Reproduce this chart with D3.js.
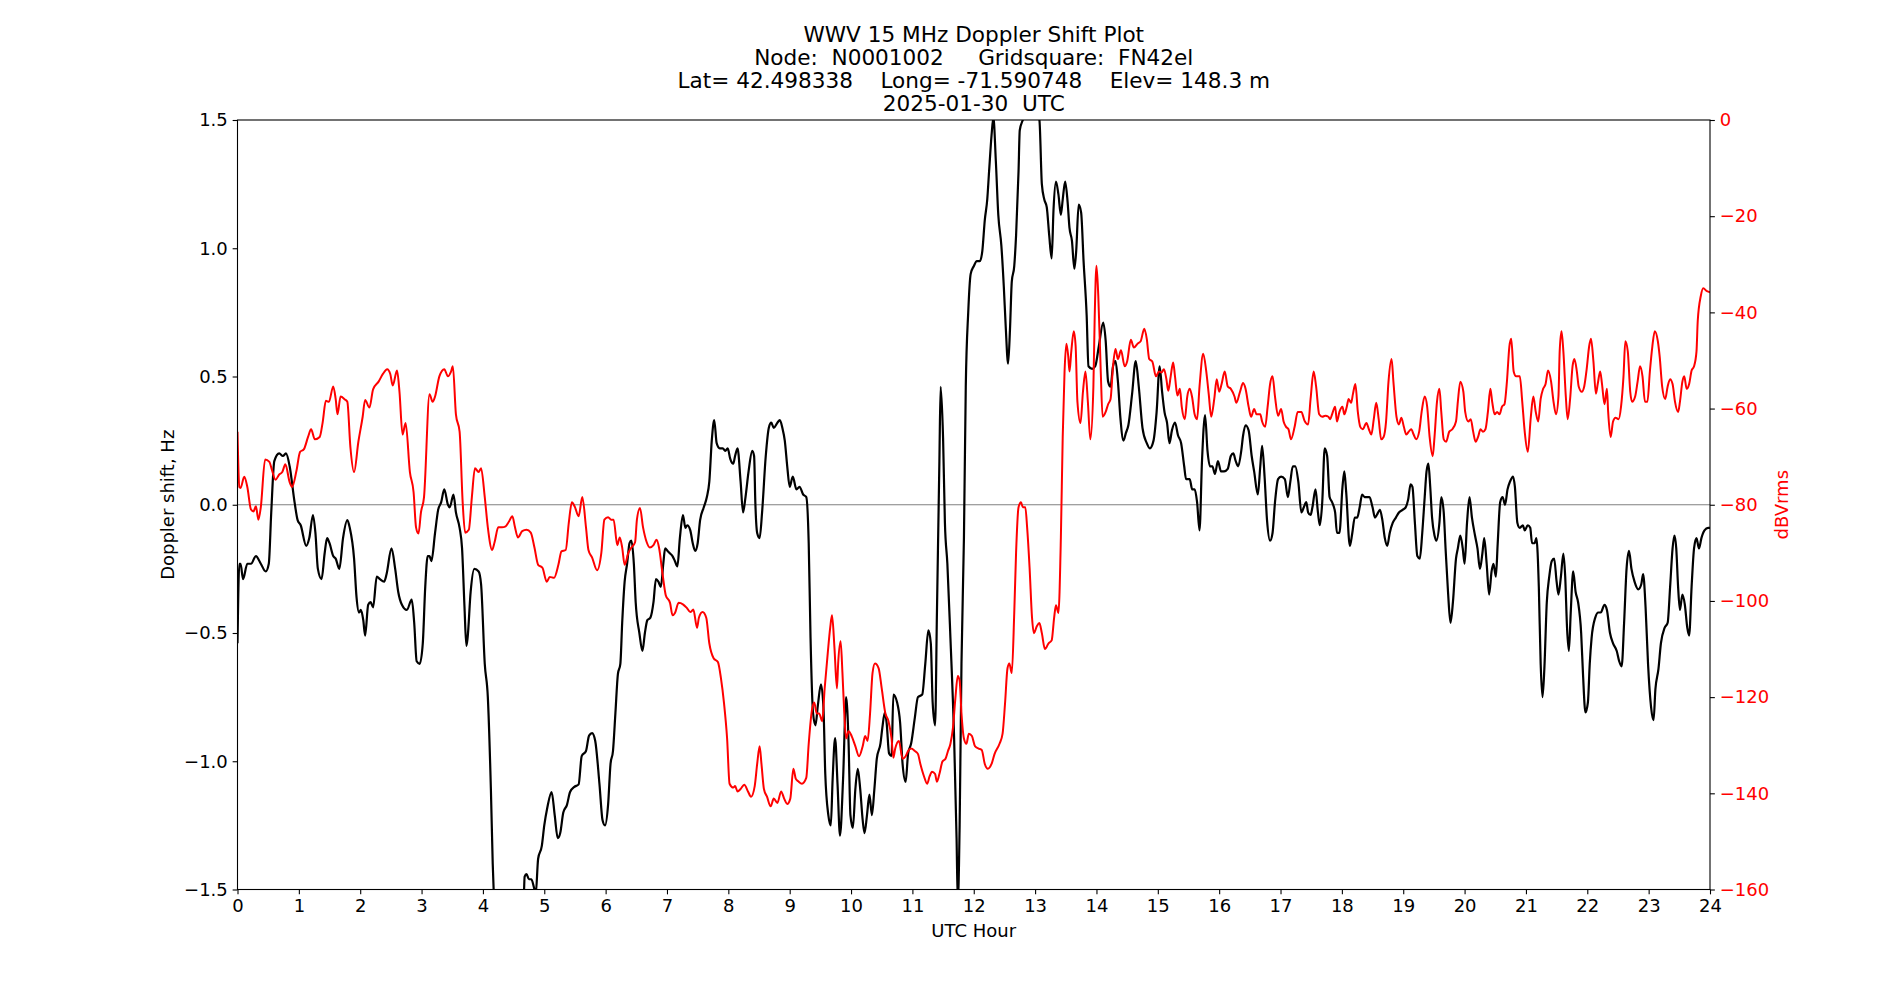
<!DOCTYPE html>
<html>
<head>
<meta charset="utf-8">
<script src="https://cdn.jsdelivr.net/npm/d3@7"></script>
<style>
  body { margin: 0; background: #fff; }
  svg { font-family: "DejaVu Sans", sans-serif; }
  text { white-space: pre; }
</style>
</head>
<body>
<svg id="chart" width="1900" height="1000"></svg>
<script>
// title lines, as in the source plot
const titleLines = [
  "WWV 15 MHz Doppler Shift Plot",
  "Node:  N0001002     Gridsquare:  FN42el",
  "Lat= 42.498338    Long= -71.590748    Elev= 148.3 m",
  "2025-01-30  UTC"
];

const hourTicks = d3.range(0, 25, 1);
const shiftTicks = [-1.5, -1.0, -0.5, 0.0, 0.5, 1.0, 1.5];
const levelTicks = [-160, -140, -120, -100, -80, -60, -40, -20, 0];

// Doppler shift (Hz) vs UTC hour
const dopplerTime = [
  0.00,0.03,0.05,0.09,0.16,0.22,0.30,0.38,0.46,0.51,0.55,0.60,0.68,0.74,0.79,0.85,0.93,0.98,
  1.03,1.12,1.17,1.23,1.27,1.31,1.37,1.42,1.46,1.50,1.56,1.60,1.66,1.72,1.79,1.83,1.90,1.94,1.98,
  2.01,2.05,2.08,2.13,2.17,2.21,2.27,2.32,2.39,2.43,2.51,2.57,2.62,2.68,2.76,2.84,2.88,2.92,2.97,
  3.02,3.06,3.10,3.13,3.16,3.22,3.27,3.32,3.37,3.43,3.46,3.52,3.56,3.62,3.66,3.70,3.73,3.75,3.80,3.86,3.93,3.97,
  4.03,4.08,4.13,4.16,4.19,4.30,4.55,4.66,4.68,4.71,4.75,4.79,4.83,4.86,4.90,4.96,
  5.00,5.05,5.12,5.17,5.22,5.26,5.31,5.37,5.42,5.49,5.56,5.61,5.68,5.73,5.78,5.83,5.90,5.95,5.99,
  6.04,6.08,6.12,6.16,6.20,6.24,6.27,6.31,6.35,6.39,6.42,6.46,6.49,6.55,6.60,6.64,6.68,6.73,6.78,6.82,6.86,6.90,6.94,6.97,
  7.01,7.05,7.09,7.13,7.17,7.21,7.26,7.30,7.33,7.38,7.42,7.46,7.50,7.54,7.60,7.65,7.69,7.73,7.77,7.81,7.86,7.91,7.95,7.99,
  8.03,8.08,8.11,8.15,8.20,8.24,8.28,8.33,8.39,8.42,8.44,8.47,8.51,8.55,8.61,8.66,8.70,8.74,8.80,8.84,8.88,8.92,8.96,
  9.00,9.05,9.11,9.16,9.22,9.27,9.31,9.34,9.38,9.42,9.46,9.51,9.55,9.58,9.63,9.67,9.70,9.74,9.78,9.82,9.87,9.92,9.96,9.99,
  10.03,10.07,10.11,10.15,10.19,10.22,10.26,10.30,10.34,10.38,10.42,10.48,10.51,10.55,10.58,10.62,10.66,10.69,10.75,10.80,10.84,10.89,10.93,10.98,
  11.04,11.09,11.16,11.21,11.26,11.30,11.33,11.37,11.40,11.44,11.46,11.50,11.53,11.57,11.62,11.68,11.72,11.74,11.77,11.80,11.84,11.87,11.91,11.95,
  12.00,12.05,12.10,12.14,12.18,12.22,12.25,12.29,12.32,12.36,12.40,12.45,12.49,12.52,12.56,12.59,12.62,12.66,12.69,12.73,12.75,12.80,12.90,12.98,
  13.07,13.11,13.15,13.19,13.23,13.27,13.30,13.34,13.38,13.42,13.45,13.49,13.53,13.56,13.60,13.64,13.67,13.71,13.75,13.79,13.84,13.87,13.93,13.98,
  14.04,14.11,14.15,14.19,14.23,14.27,14.31,14.35,14.39,14.44,14.48,14.52,14.58,14.64,14.69,14.75,14.82,14.87,14.93,14.98,
  15.03,15.07,15.11,15.15,15.19,15.23,15.28,15.33,15.38,15.43,15.46,15.52,15.56,15.60,15.64,15.68,15.72,15.77,15.81,15.85,15.89,15.93,15.98,
  16.03,16.08,16.14,16.19,16.23,16.27,16.31,16.36,16.39,16.43,16.48,16.53,16.57,16.63,16.67,16.70,16.74,16.78,16.83,16.87,16.91,16.96,
  17.01,17.07,17.12,17.16,17.20,17.24,17.29,17.34,17.38,17.42,17.45,17.49,17.52,17.57,17.61,17.64,17.68,17.72,17.76,17.80,17.84,17.89,17.92,17.96,
  18.01,18.04,18.07,18.13,18.17,18.21,18.25,18.29,18.33,18.37,18.41,18.45,18.50,18.54,18.57,18.62,18.66,18.70,18.74,18.78,18.83,18.88,18.93,18.99,
  19.04,19.08,19.12,19.15,19.19,19.23,19.27,19.31,19.35,19.38,19.41,19.44,19.47,19.51,19.54,19.59,19.62,19.66,19.69,19.73,19.77,19.81,19.86,19.89,19.93,19.97,
  20.00,20.04,20.08,20.12,20.17,20.21,20.25,20.29,20.32,20.36,20.40,20.44,20.47,20.51,20.54,20.58,20.62,20.66,20.70,20.74,20.79,20.82,20.86,20.90,20.95,20.98,
  21.03,21.07,21.10,21.14,21.17,21.21,21.24,21.27,21.30,21.34,21.38,21.42,21.46,21.50,21.53,21.57,21.61,21.64,21.67,21.70,21.73,21.77,21.81,21.85,21.90,21.93,21.97,
  22.01,22.04,22.07,22.13,22.18,22.22,22.28,22.32,22.37,22.42,22.48,22.52,22.56,22.60,22.64,22.68,22.72,22.77,22.83,22.88,22.91,22.95,22.99,
  23.04,23.08,23.11,23.16,23.20,23.26,23.31,23.35,23.39,23.42,23.45,23.48,23.51,23.55,23.59,23.63,23.66,23.70,23.74,23.78,23.82,23.86,23.91,23.97,24.00
];
const dopplerShift = [
  -0.54,-0.23,-0.23,-0.29,-0.23,-0.23,-0.20,-0.23,-0.26,-0.23,-0.03,0.17,0.20,0.19,0.20,0.15,0.01,-0.06,
  -0.08,-0.16,-0.13,-0.04,-0.11,-0.25,-0.29,-0.19,-0.13,-0.15,-0.20,-0.21,-0.25,-0.13,-0.06,-0.09,-0.21,-0.36,-0.42,
  -0.41,-0.45,-0.51,-0.39,-0.38,-0.40,-0.28,-0.29,-0.30,-0.27,-0.17,-0.25,-0.34,-0.39,-0.41,-0.37,-0.46,-0.61,-0.62,
  -0.54,-0.32,-0.20,-0.20,-0.22,-0.11,-0.02,0.01,0.06,0.00,-0.01,0.04,-0.03,-0.09,-0.17,-0.40,-0.55,-0.52,-0.34,-0.25,-0.26,-0.31,
  -0.62,-0.75,-1.11,-1.40,-1.60,-2.00,-2.00,-1.60,-1.45,-1.44,-1.46,-1.46,-1.49,-1.52,-1.38,-1.33,
  -1.25,-1.18,-1.12,-1.21,-1.30,-1.28,-1.20,-1.17,-1.12,-1.10,-1.09,-0.98,-0.96,-0.90,-0.89,-0.92,-1.09,-1.23,-1.25,
  -1.17,-1.01,-0.96,-0.81,-0.66,-0.62,-0.46,-0.30,-0.23,-0.15,-0.14,-0.23,-0.38,-0.50,-0.57,-0.50,-0.45,-0.44,-0.38,-0.29,-0.30,-0.32,-0.23,-0.17,
  -0.18,-0.19,-0.20,-0.22,-0.24,-0.13,-0.04,-0.09,-0.08,-0.10,-0.15,-0.18,-0.15,-0.06,-0.01,0.03,0.09,0.25,0.33,0.24,0.22,0.22,0.21,0.22,
  0.18,0.16,0.19,0.22,0.09,-0.03,0.03,0.13,0.21,0.19,0.01,-0.11,-0.13,-0.03,0.19,0.30,0.32,0.30,0.32,0.33,0.30,0.25,0.15,
  0.07,0.11,0.06,0.07,0.04,0.03,-0.15,-0.52,-0.81,-0.86,-0.78,-0.70,-0.79,-1.05,-1.21,-1.25,-1.07,-0.91,-1.09,-1.29,-1.07,-0.75,-0.93,-1.21,
  -1.26,-1.11,-1.03,-1.11,-1.23,-1.28,-1.21,-1.13,-1.21,-1.11,-0.99,-0.93,-0.87,-0.81,-0.85,-0.97,-0.98,-0.74,-0.77,-0.85,-1.01,-1.08,-0.97,-0.93,
  -0.83,-0.75,-0.74,-0.62,-0.49,-0.54,-0.77,-0.86,-0.42,0.17,0.46,0.26,-0.07,-0.23,-0.52,-0.91,-1.30,-1.55,-1.25,-0.62,-0.13,0.46,0.75,0.90,
  0.93,0.95,0.95,0.99,1.11,1.19,1.30,1.44,1.51,1.34,1.13,1.01,0.85,0.70,0.55,0.68,0.87,0.93,1.05,1.30,1.46,1.50,1.55,1.55,
  1.50,1.25,1.19,1.16,1.05,0.96,1.15,1.26,1.21,1.13,1.19,1.26,1.18,1.08,1.03,0.92,0.99,1.17,1.14,0.95,0.74,0.54,0.53,0.54,
  0.62,0.71,0.64,0.48,0.46,0.54,0.56,0.48,0.34,0.25,0.28,0.31,0.43,0.56,0.46,0.30,0.24,0.22,0.25,0.36,
  0.54,0.44,0.36,0.32,0.24,0.29,0.32,0.27,0.24,0.15,0.10,0.10,0.06,0.06,0.01,-0.10,0.17,0.35,0.21,0.15,0.15,0.12,0.17,
  0.13,0.13,0.14,0.19,0.20,0.17,0.15,0.21,0.27,0.31,0.29,0.19,0.13,0.04,0.15,0.23,0.11,-0.06,-0.14,-0.11,0.01,0.10,
  0.11,0.10,0.03,0.09,0.15,0.15,0.09,-0.03,-0.01,0.01,-0.03,-0.04,-0.01,0.06,-0.03,-0.08,0.01,0.22,0.19,0.03,0.01,-0.03,-0.11,-0.11,
  0.07,0.13,0.05,-0.16,-0.11,-0.05,-0.05,-0.01,0.04,0.03,0.03,0.03,-0.01,-0.05,-0.04,-0.02,-0.06,-0.13,-0.16,-0.11,-0.07,-0.05,-0.03,-0.02,
  -0.01,0.02,0.08,0.07,-0.07,-0.20,-0.21,-0.11,0.03,0.13,0.16,0.07,-0.05,-0.12,-0.14,-0.07,0.03,-0.03,-0.17,-0.34,-0.46,-0.38,-0.21,-0.17,-0.12,-0.17,
  -0.23,-0.07,0.03,-0.05,-0.12,-0.17,-0.25,-0.19,-0.13,-0.23,-0.35,-0.26,-0.23,-0.28,-0.15,0.01,0.03,0.00,0.06,0.09,0.11,0.07,-0.07,-0.09,-0.08,-0.10,
  -0.08,-0.09,-0.15,-0.15,-0.13,-0.32,-0.62,-0.75,-0.64,-0.38,-0.28,-0.22,-0.21,-0.30,-0.35,-0.28,-0.19,-0.28,-0.48,-0.57,-0.42,-0.26,-0.34,-0.38,-0.50,-0.66,-0.81,
  -0.77,-0.62,-0.52,-0.44,-0.42,-0.42,-0.39,-0.41,-0.50,-0.54,-0.57,-0.61,-0.63,-0.46,-0.25,-0.18,-0.25,-0.30,-0.33,-0.31,-0.27,-0.40,-0.62,
  -0.79,-0.84,-0.72,-0.64,-0.54,-0.48,-0.46,-0.32,-0.17,-0.12,-0.17,-0.32,-0.41,-0.35,-0.39,-0.48,-0.51,-0.32,-0.17,-0.13,-0.17,-0.13,-0.10,-0.09,-0.09
];

// received level (dBVrms) vs UTC hour
const powerTime = [
  0.00,0.03,0.05,0.11,0.16,0.22,0.26,0.30,0.34,0.38,0.45,0.52,0.56,0.62,0.68,0.73,0.78,0.85,0.89,0.96,
  1.02,1.08,1.15,1.20,1.26,1.34,1.39,1.44,1.49,1.56,1.60,1.63,1.68,1.75,1.79,1.84,1.90,1.97,
  2.04,2.08,2.15,2.21,2.30,2.37,2.44,2.49,2.53,2.60,2.64,2.69,2.74,2.81,2.87,2.91,2.95,2.99,
  3.04,3.13,3.18,3.22,3.29,3.37,3.43,3.48,3.51,3.56,3.62,3.67,3.71,3.77,3.82,3.87,3.93,3.97,
  4.03,4.08,4.15,4.19,4.25,4.31,4.37,4.42,4.48,4.52,4.57,4.64,4.71,4.78,4.84,4.90,4.97,
  5.04,5.09,5.16,5.23,5.28,5.35,5.40,5.45,5.50,5.56,5.62,5.68,5.72,5.78,5.86,5.93,5.98,
  6.04,6.09,6.13,6.19,6.23,6.27,6.31,6.37,6.42,6.48,6.51,6.56,6.61,6.67,6.72,6.78,6.83,6.87,6.93,6.98,
  7.05,7.09,7.13,7.19,7.26,7.32,7.38,7.43,7.49,7.52,7.58,7.64,7.69,7.76,7.83,7.88,7.93,7.98,
  8.02,8.08,8.11,8.15,8.20,8.26,8.32,8.37,8.43,8.47,8.51,8.54,8.58,8.63,8.69,8.74,8.80,8.86,8.91,8.96,
  9.01,9.06,9.10,9.14,9.20,9.27,9.31,9.36,9.40,9.44,9.48,9.53,9.57,9.62,9.66,9.69,9.73,9.77,9.79,9.83,9.86,9.89,9.92,9.96,
  10.01,10.07,10.13,10.19,10.23,10.27,10.31,10.35,10.39,10.45,10.50,10.56,10.61,10.66,10.69,10.72,10.78,10.84,10.89,10.93,10.98,
  11.04,11.09,11.13,11.19,11.24,11.28,11.32,11.37,11.40,11.44,11.49,11.54,11.58,11.62,11.66,11.70,11.74,11.77,11.80,11.84,11.88,11.92,11.97,
  12.02,12.08,12.13,12.18,12.23,12.29,12.34,12.42,12.47,12.51,12.55,12.58,12.62,12.66,12.69,12.73,12.77,12.80,12.84,12.87,12.91,12.95,12.98,
  13.03,13.07,13.11,13.16,13.22,13.27,13.31,13.34,13.38,13.42,13.45,13.48,13.51,13.54,13.56,13.59,13.63,13.66,13.69,13.74,13.78,13.82,13.86,13.90,13.95,13.97,
  14.00,14.03,14.07,14.10,14.15,14.19,14.23,14.27,14.31,14.35,14.40,14.46,14.50,14.56,14.61,14.67,14.72,14.78,14.82,14.86,14.91,14.97,
  15.02,15.06,15.10,15.14,15.17,15.21,15.25,15.28,15.32,15.36,15.39,15.44,15.48,15.52,15.56,15.60,15.64,15.68,15.74,15.79,15.83,15.87,15.92,15.96,
  16.00,16.04,16.09,16.14,16.19,16.25,16.28,16.34,16.39,16.43,16.48,16.52,16.57,16.61,16.67,16.70,16.75,16.79,16.83,16.87,16.91,16.96,
  17.01,17.05,17.09,17.13,17.17,17.23,17.28,17.34,17.39,17.45,17.49,17.54,17.58,17.63,17.68,17.73,17.78,17.81,17.84,17.89,17.92,17.96,
  18.01,18.04,18.08,18.11,18.15,18.18,18.22,18.26,18.30,18.34,18.40,18.44,18.48,18.52,18.56,18.60,18.64,18.68,18.72,18.76,18.81,18.84,18.89,18.93,18.97,
  19.01,19.05,19.09,19.13,19.17,19.21,19.26,19.30,19.35,19.39,19.43,19.48,19.51,19.55,19.59,19.62,19.66,19.70,19.75,19.80,19.86,19.89,19.93,19.98,
  20.01,20.06,20.10,20.14,20.18,20.22,20.26,20.30,20.34,20.38,20.42,20.45,20.49,20.53,20.57,20.61,20.65,20.69,20.73,20.76,20.80,20.84,20.90,20.94,20.98,
  21.03,21.08,21.12,21.16,21.20,21.24,21.28,21.32,21.36,21.41,21.45,21.49,21.53,21.55,21.58,21.61,21.65,21.68,21.72,21.76,21.79,21.83,21.86,21.91,21.95,21.99,
  22.03,22.06,22.10,22.14,22.17,22.21,22.24,22.28,22.32,22.34,22.38,22.42,22.46,22.51,22.55,22.59,22.62,22.66,22.70,22.73,22.78,22.82,22.86,22.90,22.94,22.98,
  23.02,23.06,23.10,23.15,23.18,23.22,23.27,23.31,23.35,23.39,23.43,23.48,23.51,23.55,23.58,23.62,23.66,23.70,23.74,23.78,23.80,23.85,23.89,23.95,24.00
];
const powerLevel = [
  -64.8,-76.3,-76.5,-74.2,-76.3,-81.0,-81.4,-80.3,-83.1,-80.5,-70.6,-71.1,-72.7,-74.8,-73.7,-73.2,-71.6,-75.3,-76.3,-73.0,
  -69.0,-68.5,-65.9,-64.3,-66.4,-65.9,-62.7,-58.4,-58.6,-55.4,-58.0,-61.2,-57.5,-58.1,-58.6,-68.0,-73.2,-66.9,
  -61.7,-58.2,-59.8,-56.0,-54.4,-52.8,-51.8,-52.8,-55.2,-52.1,-56.5,-65.4,-63.0,-73.2,-77.4,-84.7,-86.0,-81.6,
  -78.4,-57.0,-58.6,-57.5,-53.3,-51.8,-53.3,-52.3,-51.2,-61.2,-64.8,-79.5,-85.8,-85.2,-78.4,-72.4,-73.2,-72.4,
  -78.4,-84.7,-89.4,-87.8,-84.7,-84.7,-84.5,-83.6,-82.4,-84.5,-86.8,-85.5,-85.2,-85.8,-88.9,-92.5,-93.1,
  -96.0,-95.0,-95.2,-92.5,-89.7,-89.4,-83.7,-79.5,-80.5,-82.4,-78.4,-84.7,-89.4,-91.0,-93.6,-90.0,-83.1,
  -82.6,-83.1,-83.1,-88.4,-86.8,-88.9,-92.5,-90.0,-88.9,-87.8,-83.1,-80.7,-84.7,-87.8,-88.9,-88.4,-87.3,-88.9,-94.6,-98.8,
  -100.4,-103.0,-102.5,-100.4,-100.7,-101.4,-102.3,-101.8,-105.6,-103.5,-102.3,-103.5,-108.8,-111.9,-112.7,-116.1,-121.3,-128.6,
  -138.0,-138.8,-138.5,-139.6,-139.1,-138.2,-139.6,-140.7,-138.5,-133.9,-130.2,-133.9,-139.1,-140.7,-142.7,-141.1,-142.0,-139.6,-141.1,-142.2,
  -141.1,-134.9,-137.0,-137.5,-138.0,-136.8,-129.7,-122.9,-121.1,-123.4,-123.4,-125.0,-118.2,-110.9,-105.6,-103.0,-109.8,-118.2,-113.0,-108.4,-115.0,-123.4,-128.6,-127.1,
  -128.1,-130.2,-132.3,-130.2,-128.1,-129.1,-123.4,-115.0,-113.0,-114.0,-118.2,-123.4,-125.0,-128.6,-132.6,-130.7,-129.1,-132.8,-132.3,-131.2,-130.7,
  -131.2,-131.8,-133.9,-136.5,-138.0,-136.5,-135.5,-136.0,-137.6,-136.0,-133.4,-132.8,-131.2,-129.7,-126.5,-120.3,-115.6,-116.6,-123.4,-128.6,-129.7,-127.6,-128.1,
  -130.2,-130.7,-131.0,-133.9,-134.9,-133.9,-131.8,-129.7,-127.6,-121.3,-114.0,-113.0,-115.0,-102.5,-89.9,-80.5,-79.5,-80.5,-80.5,-84.7,-93.1,-103.5,-106.7,
  -105.2,-104.6,-106.7,-110.0,-108.8,-108.2,-103.5,-100.9,-102.5,-86.8,-65.9,-52.3,-46.5,-49.1,-52.3,-48.1,-43.9,-46.9,-58.6,-63.0,-56.5,-52.3,-58.6,-66.4,-55.4,-41.8,
  -30.3,-36.6,-52.3,-61.7,-60.7,-59.1,-58.0,-51.2,-47.6,-49.7,-47.9,-51.2,-50.2,-45.7,-47.3,-46.5,-46.0,-43.4,-45.5,-49.7,-50.2,-53.3,
  -52.3,-52.5,-51.8,-53.9,-56.3,-53.3,-50.4,-53.3,-57.3,-55.9,-59.6,-62.2,-57.5,-55.9,-57.7,-61.2,-62.2,-55.4,-48.6,-52.3,-57.0,-61.7,-58.0,-53.9,
  -56.5,-54.9,-52.3,-55.4,-55.9,-57.5,-58.8,-56.5,-54.7,-55.9,-59.6,-61.7,-60.1,-61.2,-61.2,-62.7,-63.8,-59.6,-54.9,-53.3,-57.5,-61.5,
  -60.1,-62.7,-63.8,-64.3,-66.4,-63.8,-60.7,-60.7,-62.5,-63.3,-58.0,-52.3,-55.4,-61.2,-61.7,-61.5,-61.7,-62.2,-61.2,-59.6,-62.7,-60.7,
  -59.6,-61.2,-59.6,-58.0,-58.8,-57.0,-54.9,-60.7,-63.8,-64.3,-63.0,-64.3,-65.4,-62.2,-58.8,-62.2,-66.4,-65.9,-62.7,-54.4,-49.7,-54.4,-61.7,-63.3,-61.9,
  -63.8,-65.4,-64.8,-64.3,-65.4,-66.4,-64.8,-60.7,-57.5,-59.6,-65.9,-69.9,-65.9,-58.6,-55.9,-60.7,-66.4,-66.9,-64.8,-64.3,-62.7,-58.6,-54.4,-56.5,
  -60.7,-62.7,-62.2,-64.8,-66.9,-65.9,-64.3,-64.8,-64.3,-60.7,-55.9,-58.6,-61.2,-60.7,-61.2,-59.6,-59.1,-54.4,-47.1,-45.5,-52.3,-53.3,-53.3,-58.6,-64.8,
  -69.0,-61.7,-57.5,-60.7,-62.7,-58.0,-55.9,-54.9,-52.1,-54.4,-58.6,-61.2,-57.5,-48.1,-43.9,-48.1,-57.5,-62.2,-58.0,-51.2,-49.7,-52.3,-55.4,-56.5,-55.4,-51.8,
  -47.1,-45.5,-50.2,-56.9,-54.9,-52.3,-54.9,-59.1,-55.9,-60.7,-65.9,-62.7,-61.9,-62.2,-59.6,-53.3,-46.0,-48.1,-56.5,-58.6,-57.5,-54.4,-51.2,-53.3,-58.6,-58.6,
  -52.3,-47.1,-43.9,-46.0,-49.2,-55.4,-58.0,-55.4,-53.9,-54.9,-58.6,-60.7,-58.6,-54.4,-53.3,-55.9,-54.9,-52.1,-51.2,-48.1,-41.8,-36.6,-35.0,-35.6,-35.8
];

if (dopplerTime.length !== dopplerShift.length || powerTime.length !== powerLevel.length) {
  throw new Error('length mismatch ' + dopplerTime.length + '/' + dopplerShift.length +
    ' ' + powerTime.length + '/' + powerLevel.length);
}

// matplotlib default subplot box for a 19x10 inch figure
const plotLeft = 237.5, plotRight = 1710, plotTop = 120, plotBottom = 889.5;
const tickLen = 4.86, tickPad = 4.86;
const fontSize = 18;
const titleSize = 21.6;

const svg = d3.select('#chart');

const x = d3.scaleLinear().domain([0, 24]).range([plotLeft, plotRight]);
const yShift = d3.scaleLinear().domain([-1.5, 1.5]).range([plotBottom, plotTop]);
const yLevel = d3.scaleLinear().domain([-160, 0]).range([plotBottom, plotTop]);

svg.append('clipPath').attr('id', 'plot-clip')
  .append('rect')
  .attr('x', plotLeft).attr('y', plotTop)
  .attr('width', plotRight - plotLeft).attr('height', plotBottom - plotTop);

// zero line
svg.append('line')
  .attr('x1', plotLeft).attr('x2', plotRight)
  .attr('y1', yShift(0)).attr('y2', yShift(0))
  .attr('stroke', '#808080')
  .attr('stroke-width', 1);

const dopplerLine = d3.line()
  .x(i => x(dopplerTime[i]))
  .y(i => yShift(dopplerShift[i]))
  .curve(d3.curveMonotoneX);

const powerLine = d3.line()
  .x(i => x(powerTime[i]))
  .y(i => yLevel(powerLevel[i]))
  .curve(d3.curveMonotoneX);

const plot = svg.append('g').attr('clip-path', 'url(#plot-clip)');

plot.append('path')
  .attr('d', dopplerLine(d3.range(dopplerTime.length)))
  .attr('fill', 'none')
  .attr('stroke', 'black')
  .attr('stroke-width', 2.2)
  .attr('stroke-linejoin', 'round');

plot.append('path')
  .attr('d', powerLine(d3.range(powerTime.length)))
  .attr('fill', 'none')
  .attr('stroke', 'red')
  .attr('stroke-width', 2)
  .attr('stroke-linejoin', 'round');

// axes
function styleAxis(g, color) {
  g.select('.domain').remove();
  g.selectAll('.tick line').attr('stroke', 'black').attr('stroke-width', 1.1);
  g.selectAll('.tick text')
    .attr('fill', color)
    .style('font-family', '"DejaVu Sans", sans-serif')
    .style('font-size', fontSize + 'px');
}

svg.append('g')
  .attr('transform', `translate(0,${plotBottom})`)
  .call(d3.axisBottom(x).tickValues(hourTicks).tickFormat(d3.format('d'))
    .tickSize(tickLen).tickPadding(tickPad))
  .call(g => styleAxis(g, 'black'));

svg.append('g')
  .attr('transform', `translate(${plotLeft},0)`)
  .call(d3.axisLeft(yShift).tickValues(shiftTicks).tickFormat(d3.format('.1f'))
    .tickSize(tickLen).tickPadding(tickPad))
  .call(g => styleAxis(g, 'black'));

svg.append('g')
  .attr('transform', `translate(${plotRight},0)`)
  .call(d3.axisRight(yLevel).tickValues(levelTicks).tickFormat(d3.format('d'))
    .tickSize(tickLen).tickPadding(tickPad))
  .call(g => styleAxis(g, 'red'));

// frame
svg.append('rect')
  .attr('x', plotLeft).attr('y', plotTop)
  .attr('width', plotRight - plotLeft).attr('height', plotBottom - plotTop)
  .attr('fill', 'none')
  .attr('stroke', 'black')
  .attr('stroke-width', 1.1);

// labels
const midX = (plotLeft + plotRight) / 2;
const midY = (plotTop + plotBottom) / 2;
svg.append('text')
  .attr('x', midX).attr('y', 937)
  .attr('text-anchor', 'middle')
  .style('font-size', fontSize + 'px')
  .text('UTC Hour');

svg.append('text')
  .attr('transform', `translate(174,${midY}) rotate(-90)`)
  .attr('text-anchor', 'middle')
  .style('font-size', fontSize + 'px')
  .text('Doppler shift, Hz');

svg.append('text')
  .attr('transform', `translate(1788,${midY}) rotate(-90)`)
  .attr('text-anchor', 'middle')
  .attr('fill', 'red')
  .style('font-size', fontSize + 'px')
  .text('dBVrms');

svg.append('g').selectAll('text')
  .data(titleLines)
  .join('text')
  .attr('x', midX)
  .attr('y', (d, i) => 42 + i * 23)
  .attr('text-anchor', 'middle')
  .style('font-size', titleSize + 'px')
  .text(d => d);
</script>
</body>
</html>
